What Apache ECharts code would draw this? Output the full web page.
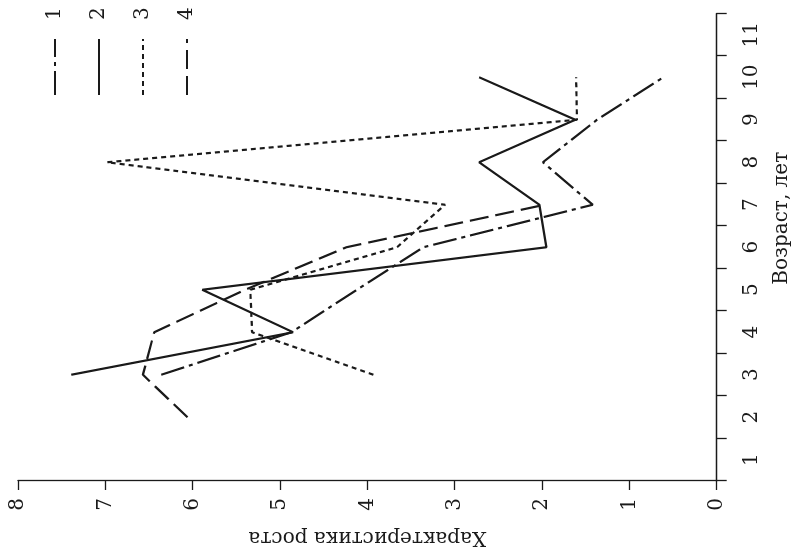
<!DOCTYPE html>
<html>
<head>
<meta charset="utf-8">
<script src="https://cdn.jsdelivr.net/npm/echarts@6/dist/echarts.min.js"></script>
<style>
  html, body { margin: 0; padding: 0; background: #fff; overflow: hidden; }
  /* The figure is laid out upright and then turned a quarter-turn counter-clockwise. */
  #chart {
    position: absolute; left: 0; top: 0;
    width: 555px; height: 797px;
    transform-origin: 0 0;
    transform: translate(0, 555px) rotate(-90deg);
  }
</style>
</head>
<body>
<div id="chart"></div>
<script>
// Age, years
const ages = ['1', '2', '3', '4', '5', '6', '7', '8', '9', '10', '11'];

// Growth characteristic per age for each group
const group1 = [null, null, 6.36, 4.87, 4.12, 3.36, 1.42, 1.99, 1.37, 0.61, null];
const group2 = [null, null, 7.39, 4.85, 5.89, 1.95, 2.03, 2.72, 1.62, 2.72, null];
const group3 = [null, null, 3.93, 5.32, 5.34, 3.66, 3.11, 6.98, 1.60, 1.61, null];
const group4 = [null, 6.06, 6.57, 6.44, 5.40, 4.24, 1.97, null, null, null, null];

const seriesNames = ['1', '2', '3', '4'];
const valueTicks = { min: 0, max: 8, step: 1 };

const ink = '#1a1a1a';
const font = 'DejaVu Serif';
const dashes = [
  [24, 5, 4, 5],   // dash-dot
  'solid',
  [5, 4],          // dotted
  [19, 7]          // dashed
];
const groups = [group1, group2, group3, group4];

const chart = echarts.init(document.getElementById('chart'));
chart.setOption({
  animation: false,
  backgroundColor: '#fff',
  grid: { left: 72, right: 13.5, top: 18, bottom: 80.3, containLabel: false },
  legend: {
    orient: 'vertical',
    left: 454,
    top: 40,
    itemWidth: 56,
    itemHeight: 14,
    itemGap: 24,
    selectedMode: false,
    itemStyle: { color: 'transparent', borderColor: 'transparent', borderWidth: 0 },
    textStyle: { fontFamily: font, fontSize: 20, color: ink, padding: [0, 0, 0, 14] },
    data: seriesNames
  },
  xAxis: {
    type: 'category',
    data: ages,
    boundaryGap: true,
    name: 'Возраст, лет',
    nameLocation: 'middle',
    nameGap: 55,
    nameTextStyle: { fontFamily: font, fontSize: 20, color: ink, padding: [0, 0, 0, 58] },
    axisLine: { lineStyle: { color: ink, width: 1.3 } },
    axisTick: { show: true, interval: 0, length: 10, alignWithLabel: false, lineStyle: { color: ink, width: 1.3 } },
    axisLabel: { interval: 0, margin: 25, fontFamily: font, fontSize: 20, color: ink },
    splitLine: { show: false }
  },
  yAxis: {
    type: 'value',
    min: valueTicks.min,
    max: valueTicks.max,
    interval: valueTicks.step,
    name: 'Характеристика роста',
    nameLocation: 'middle',
    nameGap: 46,
    nameTextStyle: { fontFamily: font, fontSize: 20, color: ink },
    axisLine: { show: true, lineStyle: { color: ink, width: 1.3 } },
    axisTick: { show: true, length: 9, lineStyle: { color: ink, width: 1.3 } },
    axisLabel: { margin: 17, fontFamily: font, fontSize: 20, color: ink },
    splitLine: { show: false }
  },
  series: groups.map((values, i) => ({
    name: seriesNames[i],
    type: 'line',
    data: values,
    symbol: 'none',
    connectNulls: false,
    color: ink,
    lineStyle: { color: ink, width: 2.2, type: dashes[i] }
  }))
});
</script>
</body>
</html>
